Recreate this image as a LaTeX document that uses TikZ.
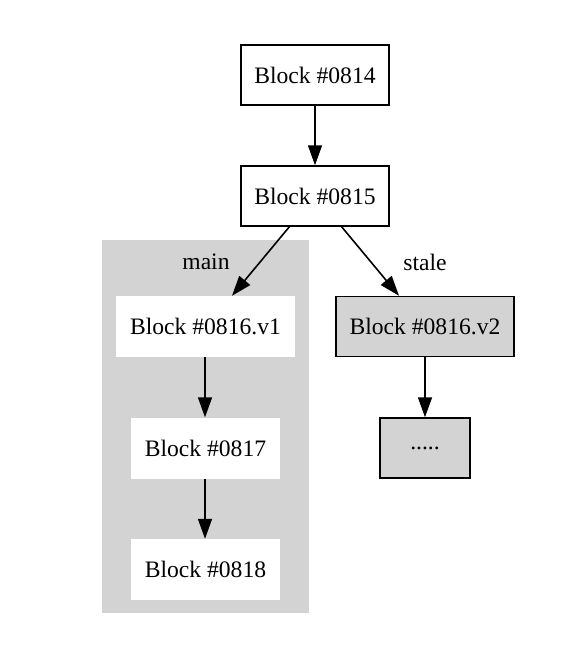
\documentclass[tikz,border=0pt]{standalone}
\usepackage{fontspec}
\setmainfont{Liberation Serif}
\usetikzlibrary{arrows.meta}
\definecolor{clgray}{RGB}{211,211,211}
\begin{document}
\begin{tikzpicture}[x=1pt,y=-1pt,
  every node/.style={font=\fontsize{23.6}{28}\selectfont, inner sep=0pt},
  blk/.style={draw=black, line width=1.5pt, fill=white, minimum height=60pt, rectangle},
  wblk/.style={fill=white, minimum height=61pt, rectangle},
  gblk/.style={draw=black, line width=1.5pt, fill=clgray, minimum height=60pt, rectangle},
  edge/.style={line width=1.6pt, -{Triangle[length=20pt,width=14pt]}}]
\useasboundingbox (0,0) rectangle (573,672);
\fill[clgray] (102,240) rectangle (309,613);
\node (main) at (206,262) {main};
\node (stale) at (425,262) {stale};
\node[blk, minimum width=148pt] (b814) at (315,75) {Block \#0814};
\node[blk, minimum width=148pt] (b815) at (315,196) {Block \#0815};
\node[wblk, minimum width=179pt] (b816a) at (205.5,326.5) {Block \#0816.v1};
\node[wblk, minimum width=149pt] (b817) at (205.5,448) {Block \#0817};
\node[wblk, minimum width=149pt] (b818) at (205.5,569.5) {Block \#0818};
\node[gblk, minimum width=178pt] (b816b) at (425,326.5) {Block \#0816.v2};
\node[gblk, minimum width=90pt] (dots) at (425,448) {.....};
\draw[edge] (b814) -- (b815);
\draw[edge] (290,226) -- (b816a.north -| 232,0);
\draw[edge] (b816a.south -| 205,0) -- (b817.north -| 205,0);
\draw[edge] (b817.south -| 205,0) -- (b818.north -| 205,0);
\draw[edge] (341,226) -- (b816b.north -| 399,0);
\draw[edge] (b816b) -- (dots);
\end{tikzpicture}
\end{document}
